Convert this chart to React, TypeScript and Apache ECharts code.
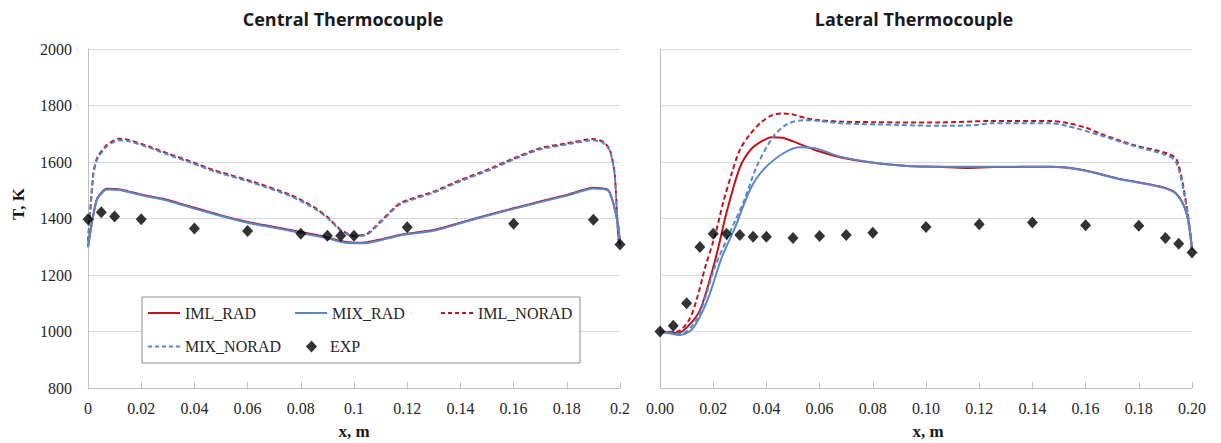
import React, { useEffect, useRef } from "react";
import * as echarts from "echarts";

// ---------- Data ----------
const yTicks = [800, 1000, 1200, 1400, 1600, 1800, 2000];

// Central thermocouple
const centralImlRad: number[][] = [
  [0, 1300], [0.0033, 1468], [0.007, 1505], [0.012, 1503], [0.0207, 1483], [0.03, 1466],
  [0.04, 1438], [0.05, 1411], [0.06, 1388], [0.07, 1370], [0.08, 1352], [0.09, 1333],
  [0.095, 1320], [0.1, 1314], [0.105, 1316], [0.11, 1326], [0.1173, 1342], [0.13, 1359],
  [0.14, 1385], [0.15, 1412], [0.16, 1436], [0.17, 1460], [0.18, 1483], [0.19, 1509],
  [0.1955, 1501], [0.1975, 1454], [0.1994, 1371], [0.2, 1308],
];
const centralMixRad: number[][] = [
  [0, 1298], [0.0033, 1465], [0.007, 1503], [0.012, 1501], [0.0207, 1481], [0.03, 1463],
  [0.04, 1435], [0.05, 1409], [0.06, 1385], [0.07, 1367], [0.08, 1349], [0.09, 1330],
  [0.095, 1317], [0.1, 1312], [0.105, 1313], [0.11, 1323], [0.1173, 1340], [0.13, 1357],
  [0.14, 1383], [0.15, 1410], [0.16, 1434], [0.17, 1458], [0.18, 1481], [0.19, 1506],
  [0.1955, 1499], [0.1975, 1452], [0.1994, 1369], [0.2, 1306],
];
const centralImlNorad: number[][] = [
  [0, 1320], [0.002, 1560], [0.0035, 1616], [0.007, 1660], [0.0114, 1682], [0.0145, 1680],
  [0.0233, 1654], [0.03, 1630], [0.0371, 1607], [0.0471, 1572], [0.0621, 1530],
  [0.0747, 1489], [0.08, 1466], [0.085, 1440], [0.09, 1405], [0.095, 1360], [0.1, 1338],
  [0.105, 1346], [0.11, 1390], [0.1173, 1454], [0.1298, 1495], [0.14, 1536], [0.15, 1572],
  [0.16, 1613], [0.17, 1649], [0.18, 1666], [0.19, 1681], [0.1937, 1672], [0.1962, 1643],
  [0.198, 1560], [0.1994, 1324], [0.2, 1308],
];
const centralMixNorad: number[][] = [
  [0, 1318], [0.002, 1555], [0.0035, 1610], [0.007, 1655], [0.0114, 1676], [0.0145, 1675],
  [0.0233, 1650], [0.03, 1626], [0.0371, 1603], [0.0471, 1568], [0.0621, 1526],
  [0.0747, 1485], [0.08, 1462], [0.085, 1436], [0.09, 1402], [0.095, 1357], [0.1, 1336],
  [0.105, 1343], [0.11, 1386], [0.1173, 1450], [0.1298, 1491], [0.14, 1532], [0.15, 1568],
  [0.16, 1609], [0.17, 1645], [0.18, 1662], [0.19, 1677], [0.1937, 1668], [0.1962, 1640],
  [0.198, 1556], [0.1994, 1322], [0.2, 1306],
];
const centralExp: number[][] = [
  [0, 1397], [0.005, 1422], [0.01, 1407], [0.02, 1397], [0.04, 1365], [0.06, 1356],
  [0.08, 1346], [0.09, 1339], [0.095, 1339], [0.1, 1339], [0.12, 1369], [0.16, 1381],
  [0.19, 1396], [0.2, 1308],
];

// Lateral thermocouple
const lateralImlRad: number[][] = [
  [0, 1000], [0.0067, 994], [0.0108, 1021], [0.015, 1075], [0.019, 1193], [0.022, 1300],
  [0.025, 1420], [0.03, 1580], [0.034, 1643], [0.038, 1672], [0.042, 1688], [0.046, 1686],
  [0.05, 1673], [0.055, 1654], [0.06, 1637], [0.068, 1616], [0.08, 1597], [0.093, 1586],
  [0.105, 1583], [0.115, 1579], [0.125, 1582], [0.147, 1583], [0.159, 1572], [0.172, 1542],
  [0.188, 1513], [0.194, 1489], [0.198, 1418], [0.2, 1290],
];
const lateralMixRad: number[][] = [
  [0, 1000], [0.004, 993], [0.0074, 988], [0.0122, 1009], [0.0178, 1110], [0.0233, 1264],
  [0.0283, 1370], [0.0338, 1501], [0.0388, 1572], [0.0464, 1631], [0.0526, 1652],
  [0.0576, 1650], [0.0677, 1619], [0.08, 1598], [0.093, 1586], [0.105, 1583], [0.147, 1583],
  [0.159, 1571], [0.172, 1541], [0.188, 1512], [0.194, 1487], [0.198, 1416], [0.2, 1290],
];
const lateralImlNorad: number[][] = [
  [0, 1000], [0.006, 998], [0.0108, 1039], [0.014, 1120], [0.017, 1228], [0.0207, 1340],
  [0.024, 1465], [0.027, 1560], [0.03, 1643], [0.034, 1700], [0.038, 1740], [0.042, 1765],
  [0.046, 1772], [0.05, 1768], [0.055, 1755], [0.06, 1748], [0.068, 1743], [0.08, 1741],
  [0.09, 1740], [0.105, 1740], [0.124, 1745], [0.147, 1745], [0.153, 1738], [0.16, 1722],
  [0.1654, 1701], [0.178, 1660], [0.1905, 1631], [0.1943, 1607], [0.198, 1442], [0.2, 1290],
];
const lateralMixNorad: number[][] = [
  [0, 1000], [0.008, 992], [0.0136, 1039], [0.017, 1120], [0.0206, 1228], [0.026, 1345],
  [0.0317, 1465], [0.0363, 1583], [0.0426, 1690], [0.048, 1735], [0.054, 1748], [0.06, 1745],
  [0.068, 1737], [0.09, 1731], [0.105, 1728], [0.119, 1731], [0.124, 1737], [0.147, 1737],
  [0.153, 1728], [0.165, 1696], [0.178, 1657], [0.19, 1625], [0.194, 1600], [0.198, 1440],
  [0.2, 1290],
];
const lateralExp: number[][] = [
  [0, 1000], [0.005, 1020], [0.01, 1100], [0.015, 1299], [0.02, 1346], [0.025, 1346],
  [0.03, 1342], [0.035, 1335], [0.04, 1335], [0.05, 1331], [0.06, 1338], [0.07, 1342],
  [0.08, 1350], [0.1, 1370], [0.12, 1380], [0.14, 1386], [0.16, 1376], [0.18, 1374],
  [0.19, 1331], [0.195, 1311], [0.2, 1280],
];

const RED = "#c0141b";
const BLUE = "#5a86c8";
const SERIF = "Liberation Serif";
const SANS = "Open Sans";
const DASH_ICON = "path://M0,0h4v2h-4zM7,0h4v2h-4zM14,0h4v2h-4zM21,0h4v2h-4zM28,0h4v2h-4z";

export default function App() {
  const ref = useRef<HTMLDivElement>(null);
  useEffect(() => {
    document.body.style.margin = "0";
    if (!ref.current) return;
    const chart = echarts.init(ref.current, undefined, { renderer: "svg" });

    const grids = [
      { left: 88, top: 49, width: 532, height: 339 },
      { left: 660, top: 49, width: 532, height: 339 },
    ];
    const xAxis = [0, 1].map((i) => ({
      type: "value",
      gridIndex: i,
      min: 0,
      max: 0.2,
      interval: 0.02,
      axisLine: { show: true, lineStyle: { color: "#bfbfbf", width: 1 } },
      axisTick: { show: true, inside: true, length: 6, lineStyle: { color: "#bfbfbf" } },
      splitLine: { show: false },
      axisLabel: {
        margin: 12,
        fontFamily: SERIF,
        fontSize: 16,
        color: "#262626",
        formatter: (v: number) =>
          i === 0 ? String(parseFloat(v.toFixed(2))) : v.toFixed(2),
      },
    }));
    const yAxis = [0, 1].map((i) => ({
      type: "value",
      gridIndex: i,
      min: yTicks[0],
      max: yTicks[yTicks.length - 1],
      interval: 200,
      axisLine: { show: true, lineStyle: { color: "#bfbfbf", width: 1 } },
      axisTick: { show: false },
      splitLine: { show: true, lineStyle: { color: "#d9d9d9", width: 1 } },
      axisLabel: {
        show: i === 0,
        margin: 16,
        fontFamily: SERIF,
        fontSize: 16,
        color: "#262626",
        formatter: (v: number) => String(v),
      },
    }));

    const line = (name: string, data: number[][], idx: number, color: string, dashed: boolean, smooth: number, z: number) => ({
      name,
      type: "line",
      xAxisIndex: idx,
      yAxisIndex: idx,
      data,
      symbol: "none",
      showSymbol: false,
      smooth,
      z,
      lineStyle: { color, width: 2, type: dashed ? [5, 3] : "solid" },
      itemStyle: { color },
    });
    const exp = (data: number[][], idx: number) => ({
      name: "EXP",
      type: "scatter",
      xAxisIndex: idx,
      yAxisIndex: idx,
      data,
      symbol: "diamond",
      symbolSize: [11, 12],
      z: 5,
      itemStyle: { color: "#000" },
    });

    const legendBase = {
      orient: "horizontal",
      padding: 0,
      itemGap: 0,
      itemWidth: 32,
      itemHeight: 2,
      z: 10,
      textStyle: { fontFamily: SERIF, fontSize: 16, color: "#262626", lineHeight: 18 },
    };

    chart.setOption({
      animation: false,
      backgroundColor: "#ffffff",
      textStyle: { fontFamily: SERIF },
      grid: grids,
      xAxis,
      yAxis,
      legend: [
        { ...legendBase, data: [{ name: "IML_RAD", icon: "rect", itemStyle: { color: RED } }], left: 148, top: 304 },
        { ...legendBase, data: [{ name: "MIX_RAD", icon: "rect", itemStyle: { color: BLUE } }], left: 295, top: 304 },
        { ...legendBase, data: [{ name: "IML_NORAD", icon: DASH_ICON, itemStyle: { color: RED } }], left: 441, top: 304 },
        { ...legendBase, data: [{ name: "MIX_NORAD", icon: DASH_ICON, itemStyle: { color: BLUE } }], left: 148, top: 337.5 },
        {
          ...legendBase,
          data: [{ name: "EXP", icon: "diamond" }],
          left: 306,
          top: 337.5,
          itemWidth: 11,
          itemHeight: 12,
          textStyle: { ...legendBase.textStyle, padding: [0, 0, 0, 8] },
        },
      ],
      graphic: [
        {
          type: "rect",
          z: 8,
          shape: { x: 142, y: 297, width: 438, height: 66 },
          style: { fill: "#ffffff", stroke: "#8c8c8c", lineWidth: 1 },
        },
        {
          type: "text",
          x: 343,
          y: 19,
          style: {
            text: "Central Thermocouple",
            align: "center",
            verticalAlign: "middle",
            font: `bold 18px '${SANS}'`,
            fill: "#1a1a1a",
          },
        },
        {
          type: "text",
          x: 914,
          y: 19,
          style: {
            text: "Lateral Thermocouple",
            align: "center",
            verticalAlign: "middle",
            font: `bold 18px '${SANS}'`,
            fill: "#1a1a1a",
          },
        },
        {
          type: "text",
          x: 354,
          y: 431,
          style: {
            text: "x, m",
            align: "center",
            verticalAlign: "middle",
            font: `bold 17px '${SERIF}'`,
            fill: "#1a1a1a",
          },
        },
        {
          type: "text",
          x: 928,
          y: 431,
          style: {
            text: "x, m",
            align: "center",
            verticalAlign: "middle",
            font: `bold 17px '${SERIF}'`,
            fill: "#1a1a1a",
          },
        },
        {
          type: "text",
          x: 18,
          y: 204,
          rotation: Math.PI / 2,
          style: {
            text: "T, K",
            align: "center",
            verticalAlign: "middle",
            font: `bold 17px '${SERIF}'`,
            fill: "#1a1a1a",
          },
        },
      ],
      series: [
        line("IML_RAD", centralImlRad, 0, RED, false, 0.2, 2),
        line("MIX_RAD", centralMixRad, 0, BLUE, false, 0.2, 3),
        line("IML_NORAD", centralImlNorad, 0, RED, true, 0.2, 2),
        line("MIX_NORAD", centralMixNorad, 0, BLUE, true, 0.2, 3),
        exp(centralExp, 0),
        line("IML_RAD", lateralImlRad, 1, RED, false, 0.3, 2),
        line("MIX_RAD", lateralMixRad, 1, BLUE, false, 0.3, 3),
        line("IML_NORAD", lateralImlNorad, 1, RED, true, 0.3, 2),
        line("MIX_NORAD", lateralMixNorad, 1, BLUE, true, 0.3, 3),
        exp(lateralExp, 1),
      ],
    });
    return () => chart.dispose();
  }, []);
  return <div ref={ref} style={{ width: 1221, height: 443 }} />;
}
